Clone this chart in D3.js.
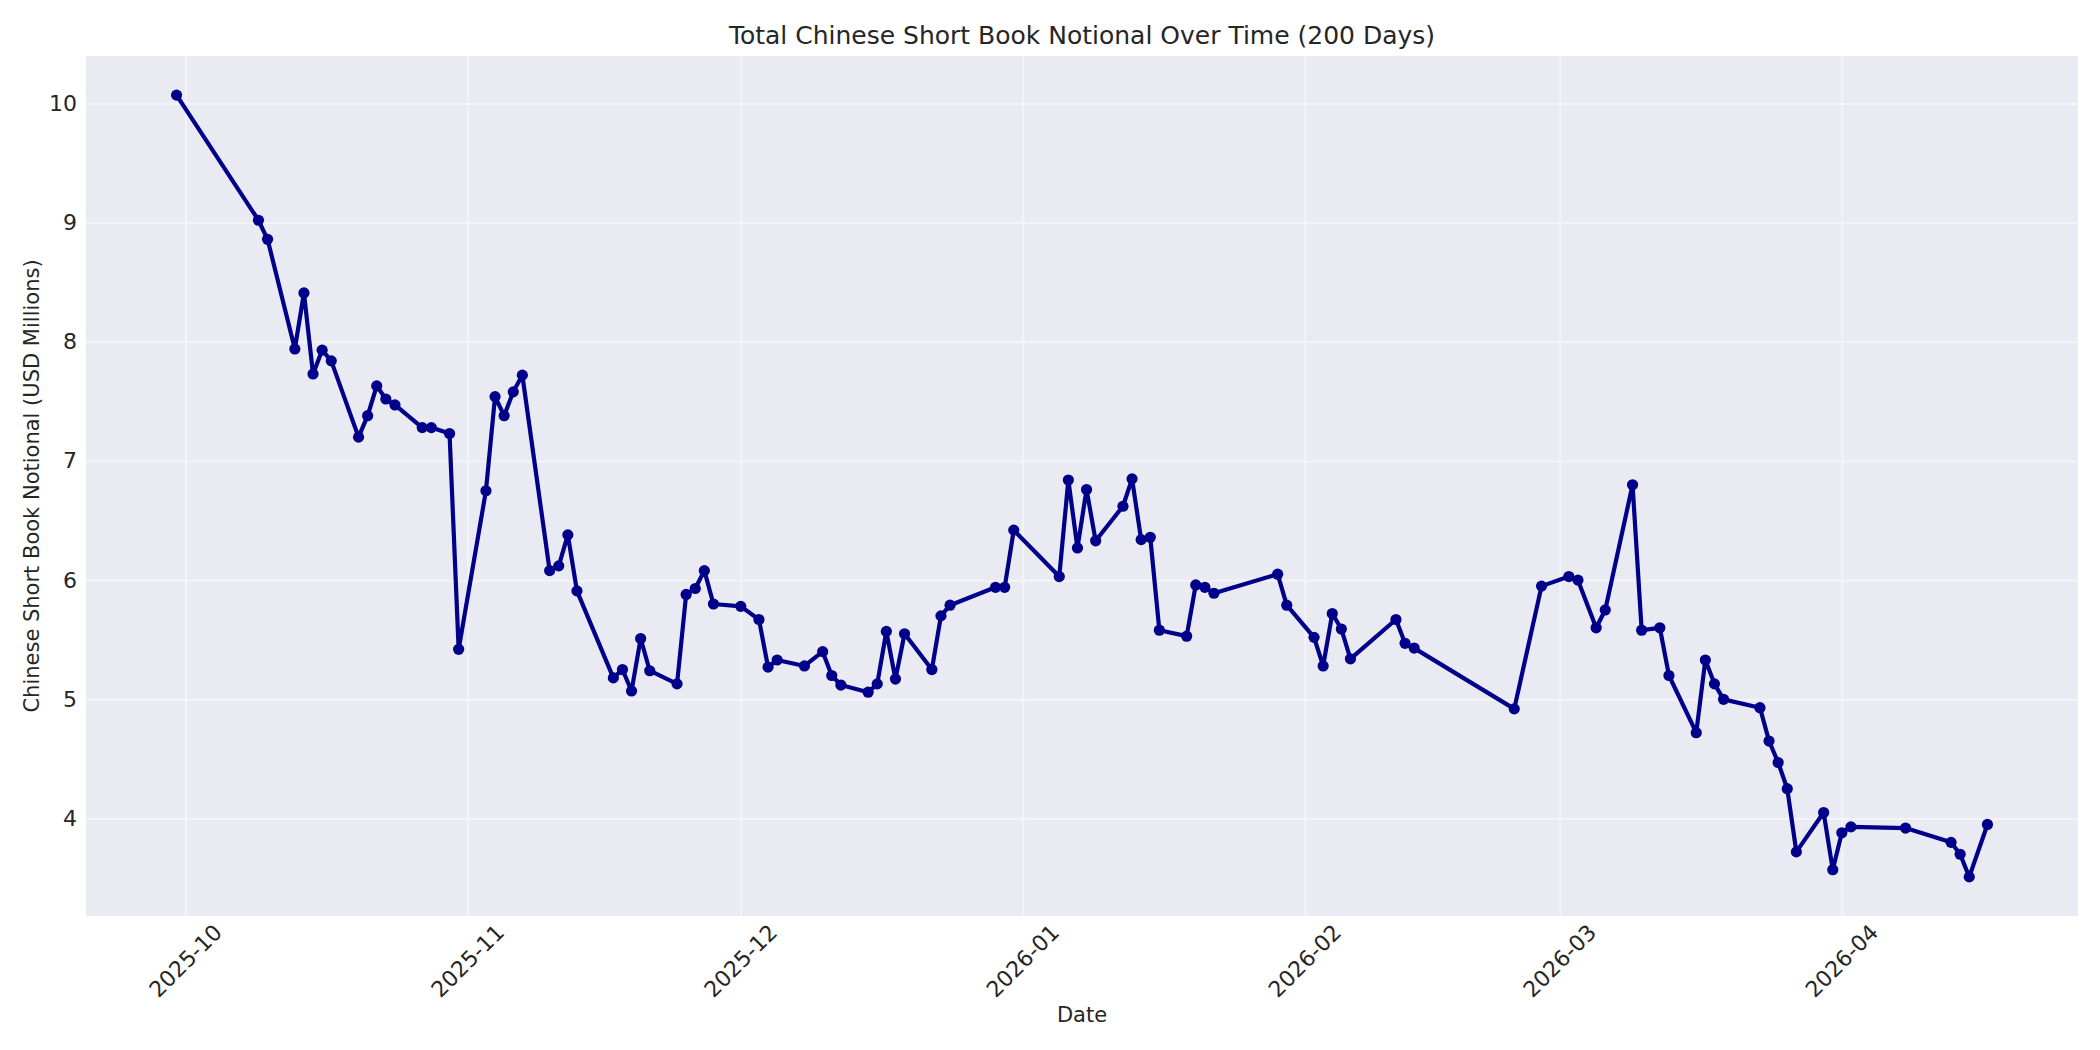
<!DOCTYPE html>
<html>
<head>
<meta charset="utf-8">
<script src="https://cdn.jsdelivr.net/npm/d3@7"></script>
<style>
  html, body { margin: 0; padding: 0; background: #ffffff; }
  svg { display: block; }
  text { font-family: "DejaVu Sans", sans-serif; fill: #262626; }
</style>
</head>
<body>
<svg id="chart" width="2100" height="1050"></svg>
<script>
const titleText = "Total Chinese Short Book Notional Over Time (200 Days)";
const xLabelText = "Date";
const yLabelText = "Chinese Short Book Notional (USD Millions)";

const dates = [
  "2025-09-30","2025-10-09","2025-10-10","2025-10-13","2025-10-14","2025-10-15","2025-10-16","2025-10-17",
  "2025-10-20","2025-10-21","2025-10-22","2025-10-23","2025-10-24","2025-10-27","2025-10-28","2025-10-30",
  "2025-10-31","2025-11-03","2025-11-04","2025-11-05","2025-11-06","2025-11-07","2025-11-10","2025-11-11",
  "2025-11-12","2025-11-13","2025-11-17","2025-11-18","2025-11-19","2025-11-20","2025-11-21","2025-11-24",
  "2025-11-25","2025-11-26","2025-11-27","2025-11-28","2025-12-01","2025-12-03","2025-12-04","2025-12-05",
  "2025-12-08","2025-12-10","2025-12-11","2025-12-12","2025-12-15","2025-12-16","2025-12-17","2025-12-18",
  "2025-12-19","2025-12-22","2025-12-23","2025-12-24","2025-12-29","2025-12-30","2025-12-31","2026-01-05",
  "2026-01-06","2026-01-07","2026-01-08","2026-01-09","2026-01-12","2026-01-13","2026-01-14","2026-01-15",
  "2026-01-16","2026-01-19","2026-01-20","2026-01-21","2026-01-22","2026-01-29","2026-01-30","2026-02-02",
  "2026-02-03","2026-02-04","2026-02-05","2026-02-06","2026-02-11","2026-02-12","2026-02-13","2026-02-24",
  "2026-02-27","2026-03-02","2026-03-03","2026-03-05","2026-03-06","2026-03-09","2026-03-10","2026-03-12",
  "2026-03-13","2026-03-16","2026-03-17","2026-03-18","2026-03-19","2026-03-23","2026-03-24","2026-03-25",
  "2026-03-26","2026-03-27","2026-03-30","2026-03-31","2026-04-01","2026-04-02","2026-04-08","2026-04-13",
  "2026-04-14","2026-04-15","2026-04-17"
];

const notional = [
  10.07, 9.02, 8.86, 7.94, 8.41, 7.73, 7.93, 7.84,
  7.20, 7.38, 7.63, 7.52, 7.47, 7.28, 7.28, 7.23,
  5.42, 6.75, 7.54, 7.38, 7.58, 7.72, 6.08, 6.12,
  6.38, 5.91, 5.18, 5.25, 5.07, 5.51, 5.24, 5.13,
  5.88, 5.93, 6.08, 5.80, 5.78, 5.67, 5.27, 5.33,
  5.28, 5.40, 5.20, 5.12, 5.06, 5.13, 5.57, 5.17,
  5.55, 5.25, 5.70, 5.79, 5.94, 5.94, 6.42, 6.03,
  6.84, 6.27, 6.76, 6.33, 6.62, 6.85, 6.34, 6.36,
  5.58, 5.53, 5.96, 5.94, 5.89, 6.05, 5.79, 5.52,
  5.28, 5.72, 5.59, 5.34, 5.67, 5.47, 5.43, 4.92,
  5.95, 6.03, 6.00, 5.60, 5.75, 6.80, 5.58, 5.60,
  5.20, 4.72, 5.33, 5.13, 5.00, 4.93, 4.65, 4.47,
  4.25, 3.72, 4.05, 3.57, 3.88, 3.93, 3.92, 3.80,
  3.70, 3.51, 3.95
];

const xTickLabels = ["2025-10","2025-11","2025-12","2026-01","2026-02","2026-03","2026-04"];
const yTickValues = [4, 5, 6, 7, 8, 9, 10];

const parse = d3.utcParse("%Y-%m-%d");
const parseMonth = d3.utcParse("%Y-%m");
const data = dates.map((d, i) => ({ date: parse(d), value: notional[i] }));

const plot = { left: 86, right: 2078, top: 56, bottom: 916 };

const xExt = d3.extent(data, d => d.date);
const xPad = (xExt[1] - xExt[0]) * 0.05;
const x = d3.scaleUtc()
  .domain([new Date(+xExt[0] - xPad), new Date(+xExt[1] + xPad)])
  .range([plot.left, plot.right]);

const yExt = d3.extent(data, d => d.value);
const yPad = (yExt[1] - yExt[0]) * 0.05;
const y = d3.scaleLinear()
  .domain([yExt[0] - yPad, yExt[1] + yPad])
  .range([plot.bottom, plot.top]);

const svg = d3.select("#chart");

svg.append("rect")
  .attr("x", plot.left).attr("y", plot.top)
  .attr("width", plot.right - plot.left)
  .attr("height", plot.bottom - plot.top)
  .attr("fill", "#EAEAF2");

const xTicks = xTickLabels.map(s => parseMonth(s));

// grid
const xAxisG = svg.append("g")
  .attr("transform", `translate(0,${plot.bottom})`)
  .call(d3.axisBottom(x).tickValues(xTicks).tickSize(-(plot.bottom - plot.top)).tickFormat(""));
const yAxisG = svg.append("g")
  .attr("transform", `translate(${plot.left},0)`)
  .call(d3.axisLeft(y).tickValues(yTickValues).tickSize(-(plot.right - plot.left)).tickFormat(""));
[xAxisG, yAxisG].forEach(g => {
  g.select(".domain").remove();
  g.selectAll(".tick line").attr("stroke", "#ffffff").attr("stroke-opacity", 0.45).attr("stroke-width", 2);
});

// tick labels
svg.append("g").selectAll("text")
  .data(yTickValues)
  .join("text")
  .attr("x", plot.left - 9)
  .attr("y", d => y(d))
  .attr("text-anchor", "end")
  .attr("dominant-baseline", "central")
  .attr("font-size", 22)
  .text(d => d);

svg.append("g").selectAll("text")
  .data(xTicks)
  .join("text")
  .attr("transform", d => `translate(${x(d)},961) rotate(-45)`)
  .attr("text-anchor", "middle")
  .attr("dominant-baseline", "central")
  .attr("font-size", 22)
  .text((d, i) => xTickLabels[i]);

// line
const line = d3.line().x(d => x(d.date)).y(d => y(d.value));
svg.append("path")
  .datum(data)
  .attr("fill", "none")
  .attr("stroke", "#00008B")
  .attr("stroke-width", 4.2)
  .attr("stroke-linejoin", "round")
  .attr("d", line);

svg.append("g").selectAll("circle")
  .data(data)
  .join("circle")
  .attr("cx", d => x(d.date))
  .attr("cy", d => y(d.value))
  .attr("r", 5.6)
  .attr("fill", "#00008B");

// titles
svg.append("text")
  .attr("x", (plot.left + plot.right) / 2)
  .attr("y", 44)
  .attr("text-anchor", "middle")
  .attr("font-size", 25)
  .text(titleText);

svg.append("text")
  .attr("x", (plot.left + plot.right) / 2)
  .attr("y", 1022)
  .attr("text-anchor", "middle")
  .attr("font-size", 21)
  .text(xLabelText);

svg.append("text")
  .attr("transform", `translate(32,${(plot.top + plot.bottom) / 2}) rotate(-90)`)
  .attr("text-anchor", "middle")
  .attr("dominant-baseline", "central")
  .attr("font-size", 21)
  .text(yLabelText);
</script>
</body>
</html>
